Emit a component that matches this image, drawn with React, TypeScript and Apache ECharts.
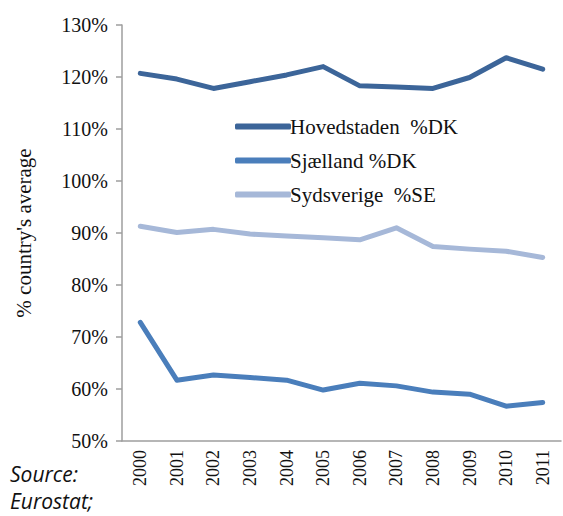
import React, { useEffect, useRef } from "react";
import * as echarts from "echarts";

const years = ["2000", "2001", "2002", "2003", "2004", "2005", "2006", "2007", "2008", "2009", "2010", "2011"];
const hovedstaden = [120.7, 119.6, 117.8, 119.1, 120.4, 122.0, 118.3, 118.1, 117.8, 119.9, 123.7, 121.5];
const sjaelland = [72.8, 61.7, 62.7, 62.2, 61.7, 59.8, 61.1, 60.6, 59.4, 59.0, 56.7, 57.4];
const sydsverige = [91.3, 90.1, 90.7, 89.8, 89.4, 89.1, 88.7, 91.0, 87.4, 86.9, 86.5, 85.3];
const seriesNames = ["Hovedstaden  %DK", "Sjælland %DK", "Sydsverige  %SE"];
const colors = ["#3C6599", "#4A7EBB", "#A6B8D8"];

const serif = "'Liberation Serif', 'DejaVu Serif', serif";

export default function App() {
  const ref = useRef<HTMLDivElement>(null);
  useEffect(() => {
    if (!ref.current) return;
    const chart = echarts.init(ref.current, null, { renderer: "svg" });
    const datasets = [hovedstaden, sjaelland, sydsverige];
    chart.setOption({
      animation: false,
      grid: { left: 122, right: 2, top: 25, bottom: 75, containLabel: false },
      legend: {
        orient: "vertical",
        left: 230,
        top: 111,
        itemGap: 13,
        itemWidth: 56,
        itemHeight: 6,
        icon: "roundRect",
        textStyle: { fontFamily: serif, fontSize: 21, color: "#111", padding: [0, 0, 0, -6] },
        data: seriesNames,
      },
      xAxis: {
        type: "category",
        data: years,
        boundaryGap: true,
        axisLine: { lineStyle: { color: "#9E9E9E", width: 1.5 } },
        axisTick: { alignWithLabel: false, length: 6, lineStyle: { color: "#9E9E9E", width: 1.5 } },
        axisLabel: {
          rotate: 90,
          interval: 0,
          margin: 9,
          fontFamily: serif,
          fontSize: 18,
          color: "#111",
          textStyle: { fontFamily: serif, fontSize: 18, color: "#111" },
        },
        splitLine: { show: false },
      },
      yAxis: {
        type: "value",
        min: 50,
        max: 130,
        interval: 10,
        name: "% country's average",
        nameLocation: "middle",
        nameGap: 88,
        nameTextStyle: { fontFamily: serif, fontSize: 21, color: "#111" },
        axisLine: { show: true, lineStyle: { color: "#9E9E9E", width: 1.5 } },
        axisTick: { show: true, length: 6, lineStyle: { color: "#9E9E9E", width: 1.5 } },
        axisLabel: {
          formatter: "{value}%",
          margin: 14,
          fontFamily: serif,
          fontSize: 20,
          color: "#111",
          textStyle: { fontFamily: serif, fontSize: 20, color: "#111" },
        },
        splitLine: { show: false },
      },
      series: seriesNames.map((name, i) => ({
        name,
        type: "line",
        data: datasets[i],
        showSymbol: false,
        symbol: "none",
        lineStyle: { color: colors[i], width: 5, cap: "round", join: "round" },
        itemStyle: { color: colors[i] },
      })),
      graphic: [
        {
          type: "text",
          left: 10,
          top: 463,
          style: { text: "Source:", fontStyle: "italic", fontSize: 21, fontFamily: "Open Sans", fill: "#111" },
        },
        {
          type: "text",
          left: 10,
          top: 490,
          style: { text: "Eurostat;", fontStyle: "italic", fontSize: 21, fontFamily: "Open Sans", fill: "#111" },
        },
      ],
    });
    return () => chart.dispose();
  }, []);
  return <div ref={ref} style={{ position: "absolute", left: 0, top: 0, width: 563, height: 516 }} />;
}
